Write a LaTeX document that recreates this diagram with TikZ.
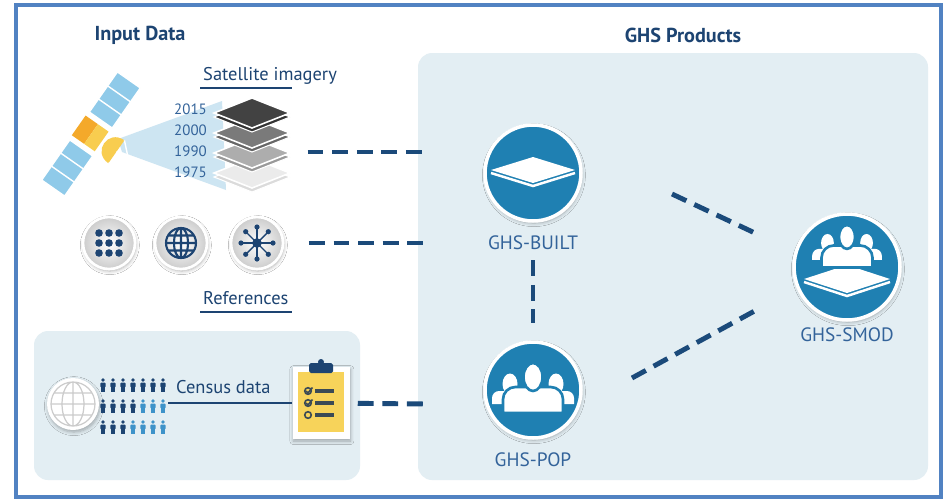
\documentclass[tikz,border=0pt]{standalone}
\usepackage{fontspec}
\setmainfont{PT Sans}
\usetikzlibrary{positioning,shadows.blur}
\definecolor{frame}{HTML}{5182C2}
\definecolor{navy}{HTML}{1D4472}
\definecolor{dashblue}{HTML}{1B4A7A}
\definecolor{ghsblue}{HTML}{1F80B2}
\definecolor{labelblue}{HTML}{33639A}
\definecolor{panel}{HTML}{E3EEF3}
\definecolor{beam}{HTML}{CDE5F2}
\definecolor{solar}{HTML}{8FCAE9}
\definecolor{amber}{HTML}{F4A92A}
\definecolor{sun}{HTML}{F8CD4F}
\definecolor{paper}{HTML}{F7D35A}
\definecolor{folk}{HTML}{3E93C9}
\definecolor{ink}{HTML}{3B4A55}

\begin{document}
\begin{tikzpicture}[x=0.02cm,y=-0.02cm,font=\fontsize{10.5}{12}\selectfont,
  link/.style={dashblue,line width=2.8pt,dash pattern=on 9pt off 5pt},
  heading/.style={navy,font=\fontsize{11.5}{13}\selectfont\bfseries},
  source/.style={navy,anchor=west},
  year/.style={labelblue,anchor=east,font=\fontsize{8.5}{10}\selectfont},
  softshadow/.style={blur shadow={shadow xshift=0.5pt,shadow yshift=-1.2pt,
    shadow blur steps=6,shadow opacity=30}},
  product/.style={circle,fill=ghsblue,draw=white,line width=2pt,softshadow},
  prodname/.style={labelblue,font=\fontsize{11}{13}\selectfont},
  refdisc/.style={circle,draw=white,line width=1.5pt,inner color=white,
    outer color=black!20,minimum size=1.04cm,softshadow},
  crowdpic/.pic={
    \foreach \s in {-1,1}{
      \fill[white] (23*\s-18,14) [rounded corners=4pt] -- (23*\s-18,1)
        -- (23*\s+18,1) [sharp corners] -- (23*\s+18,14) -- cycle;
      \fill[white] (23*\s,-6) ellipse (7.5 and 10.5);
    }
    \filldraw[fill=white,draw=ghsblue,line width=1.5pt] (-30,23)
      [rounded corners=7pt] -- (-30,-3) -- (30,-3) [sharp corners] -- (30,23) -- cycle;
    \filldraw[fill=white,draw=ghsblue,line width=1.5pt] (0,-13) ellipse (9.5 and 14);
  }]
  \fill[white] (0,0) rectangle (945,501);
  \useasboundingbox (0,0) rectangle (945,501);
  \draw[frame,line width=1.8pt] (16,5) rectangle (941,497);
  \fill[panel,rounded corners=8pt] (418,53) rectangle (928,480);
  \fill[panel,rounded corners=8pt] (34,331) rectangle (360,480);

  \node[heading] (inputs) at (140,35) {Input Data};
  \node[heading] (products) at (683,35) {GHS Products};

  \fill[beam] (118,139) -- (222,101) -- (226,190) -- (122,152) -- cycle;
  \begin{scope}[shift={(91,134)},rotate=-35]
    \foreach \s in {-1,1}{
      \filldraw[fill=solar,draw=white,line width=0.8pt] (-14,17*\s) rectangle (14,66*\s);
      \draw[white,line width=0.8pt] (-14,33*\s) -- (14,33*\s) (-14,49*\s) -- (14,49*\s);
      \draw[white,line width=1pt] (-5,12*\s) -- (-5,17*\s) (5,12*\s) -- (5,17*\s);
    }
    \fill[amber] (-15,-12) rectangle (0,12);
    \fill[sun] (0,-12) rectangle (13,12);
    \fill[sun] (31,-14) .. controls (11,-14) and (11,14) .. (31,14) -- cycle;
    \draw[white,line width=0.8pt] (31,-14) -- (46,0) -- (31,14) (31,0) -- (46,0);
  \end{scope}

  \foreach \c/\e/\ly in {black!8/black!14/173,black!32/black!40/153,
                         black!52/black!60/133,black!74/black!80/113}{
    \filldraw[fill=\e,draw=white,line width=0.6pt]
      (214,\ly+4) -- (252,\ly-11) -- (290,\ly+4) -- (252,\ly+19) -- cycle;
    \filldraw[fill=\c,draw=white,line width=0.9pt]
      (214,\ly) -- (252,\ly-15) -- (290,\ly) -- (252,\ly+15) -- cycle;
  }
  \foreach \yr/\ly in {2015/109,2000/130,1990/151,1975/172}
    \node[year] at (213,\ly) {\yr};
  \coordinate (stack) at (290,152);
  \node[source] (satlbl) at (197,76) {Satellite imagery};
  \draw[navy,line width=1.1pt] (200,88) -- (292,88);

  \node[refdisc] (gridref) at (109,243) {};
  \node[refdisc] (globeref) at (181,243) {};
  \node[refdisc] (netref) at (257,243) {};
  \begin{scope}[shift={(gridref.center)}]
    \foreach \dx in {-10,0,10}
      \foreach \dy in {-10,0,10}
        \fill[navy] (\dx,\dy) circle (3.8);
  \end{scope}
  \begin{scope}[shift={(globeref.center)},navy,line width=1.2pt]
    \draw (0,0) circle (15) (0,0) ellipse (7 and 15) (0,-15) -- (0,15) (-15,0) -- (15,0)
      (-13,-7.5) -- (13,-7.5) (-13,7.5) -- (13,7.5);
  \end{scope}
  \begin{scope}[shift={(netref.center)},navy]
    \foreach \a in {0,45,...,315}{
      \draw[line width=0.8pt] (0,0) -- (\a:16);
      \fill (\a:16) circle (2.6);
    }
    \fill (0,0) circle (4.8);
  \end{scope}
  \node[source] (reflbl) at (197,298) {References};
  \draw[navy,line width=1.1pt] (200,312) -- (292,312);

  \node[circle,fill=white,minimum size=1.04cm,softshadow] (world) at (73,404) {};
  \begin{scope}[shift={(world.center)},black!20,line width=0.7pt]
    \draw (0,0) circle (22) (0,0) ellipse (11 and 22) (0,-22) -- (0,22) (-22,0) -- (22,0)
      (-19,-11) -- (19,-11) (-19,11) -- (19,11);
  \end{scope}
  \foreach \row/\ndark in {385/7,406/4,427/3}
    \foreach \col in {1,...,7}{
      \ifnum\col>\ndark \def\pc{folk}\else\def\pc{navy}\fi
      \fill[\pc] (93+10*\col,\row-5) circle (1.9);
      \fill[\pc,rounded corners=0.6pt] (90.3+10*\col,\row-2.5) rectangle (95.7+10*\col,\row+2.5);
      \fill[\pc] (91.2+10*\col,\row+2) rectangle (94.8+10*\col,\row+7);
    }
  \coordinate (people) at (168,403);
  \node[source] (census) at (170,387) {Census data};
  \node[fill=white,minimum width=1.14cm,minimum height=1.44cm,softshadow] (clip) at (321,403) {};
  \draw[navy,line width=0.8pt] (people) -- (clip);
  \fill[paper] (298,372) rectangle (344,432);
  \fill[navy] (321,362) circle (3);
  \fill[navy,rounded corners=1pt] (309,363) rectangle (333,373);
  \foreach \y [count=\k] in {391,403,415}{
    \draw[ink,line width=0.9pt] (308,\y) circle (3.3);
    \draw[ink,line width=1.8pt] (315,\y) -- (334,\y);
  }
  \foreach \y in {391,403}
    \draw[ink,line width=0.9pt] (306,\y) -- (308,\y+2) -- (312.5,\y-3.5);

  \node[product,minimum size=1.92cm] (built) at (533,173) {};
  \node[prodname,below=4pt of built] (builtlbl) {GHS-BUILT};
  \begin{scope}[shift={(built.center)}]
    \fill[white] (0,-16) -- (42,-3) -- (0,10) -- (-42,-3) -- cycle;
    \draw[white,line width=1.4pt] (-42,0) -- (0,13) -- (42,0);
  \end{scope}

  \node[product,minimum size=1.92cm] (pop) at (533,390) {};
  \node[prodname,below=4pt of pop] (poplbl) {GHS-POP};
  \pic at (pop.center) {crowdpic};

  \node[product,minimum size=2.12cm] (smod) at (847,267) {};
  \node[prodname,below=0pt of smod] (smodlbl) {GHS-SMOD};
  \begin{scope}[shift={(smod.center)}]
    \fill[white] (-43,12) -- (0,-2) -- (43,12) -- (0,26) -- cycle;
    \draw[white,line width=1.4pt] (-43,15) -- (0,29) -- (43,15);
    \pic[scale=0.85] at (0,-19) {crowdpic};
  \end{scope}

  \coordinate (satend) at (428,152);
  \coordinate (refend) at (428,243);
  \coordinate (censend) at (428,404);
  \coordinate (b1) at (672,194);
  \coordinate (s1) at (757,234);
  \coordinate (p1) at (632,378);
  \coordinate (s2) at (760,308);
  \draw[link,shorten <=10pt] (stack) -- (satend);
  \draw[link,shorten <=14pt] (netref) -- (refend);
  \draw[link,shorten <=4.5pt] (clip) -- (censend);
  \draw[link,shorten <=2.3pt,shorten >=9.6pt] (builtlbl) -- (pop);
  \draw[link] (b1) -- (s1);
  \draw[link] (p1) -- (s2);
\end{tikzpicture}
\end{document}
